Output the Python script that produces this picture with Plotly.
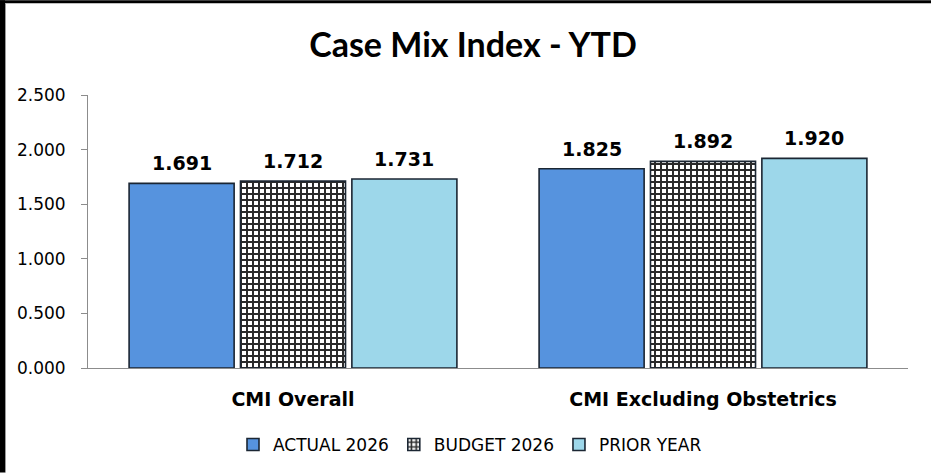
import plotly.graph_objects as go

# ---- data ----
categories = ["CMI Overall", "CMI Excluding Obstetrics"]
series_names = ["ACTUAL 2026", "BUDGET 2026", "PRIOR YEAR"]
actual_2026 = [1.691, 1.825]
budget_2026 = [1.712, 1.892]
prior_year = [1.731, 1.920]
y_tick_values = [0.0, 0.5, 1.0, 1.5, 2.0, 2.5]
y_tick_labels = ["0.000", "0.500", "1.000", "1.500", "2.000", "2.500"]
chart_title = "Case Mix Index - YTD"

# ---- layout constants ----
W, H = 931, 474
ML, MR, MT, MB = 88, 23, 95, 105
BARGAP, BARGROUPGAP = 0.185, 0.057
PW, PH = W - ML - MR, H - MT - MB


def px_x(p):
    return (p - ML) / PW


def px_y(p):
    return (H - MB - p) / PH


edge = dict(color="#1b2633", width=1.6)
series_values = [actual_2026, budget_2026, prior_year]
series_markers = [
    dict(color="#5693DE", line=edge),
    dict(color="#ffffff", line=edge,
         pattern=dict(shape="+", fgcolor="#2a2a2a", bgcolor="#ffffff",
                      size=6, solidity=0.55, fillmode="replace")),
    dict(color="#9DD7EA", line=edge),
]

fig = go.Figure()
for name, vals, mk in zip(series_names, series_values, series_markers):
    fig.add_trace(go.Bar(x=categories, y=vals, name=name, marker=mk,
                         hoverinfo="x+y+name"))

# data labels above bars, placed from the group geometry
n = len(series_names)
slot = (1 - BARGAP) / n
annotations = []
for i, vals in enumerate(series_values):
    off = -(1 - BARGAP) / 2 + (i + 0.5) * slot
    for j, v in enumerate(vals):
        annotations.append(dict(
            x=j + off, y=v, xref="x", yref="y", text=f"{v:.3f}",
            showarrow=False, yanchor="bottom", yshift=7,
            font=dict(family="DejaVu Sans", size=19, color="#000000",
                      weight="bold")))

# black frame at left/top edges of the picture
shapes = [
    dict(type="rect", xref="paper", yref="paper", x0=px_x(0), x1=px_x(5),
         y0=px_y(H), y1=px_y(0), fillcolor="#000000", line_width=0,
         layer="above"),
    dict(type="rect", xref="paper", yref="paper", x0=px_x(0), x1=px_x(W),
         y0=px_y(3), y1=px_y(0), fillcolor="#000000", line_width=0,
         layer="above"),
    dict(type="line", xref="paper", yref="paper", x0=px_x(5.5), x1=px_x(5.5),
         y0=px_y(H), y1=px_y(3), line=dict(color="#9a9a9a", width=1),
         layer="above"),
]

fig.update_layout(
    width=W, height=H,
    margin=dict(l=ML, r=MR, t=MT, b=MB, pad=0),
    paper_bgcolor="#ffffff", plot_bgcolor="#ffffff",
    barmode="group", bargap=BARGAP, bargroupgap=BARGROUPGAP,
    title=dict(text=chart_title, x=473 / W, xanchor="center",
               y=1 - 45 / H, yanchor="middle", xref="container",
               yref="container",
               font=dict(family="Lato", size=34, color="#000000",
                         weight="bold")),
    font=dict(family="DejaVu Sans", color="#000000"),
    showlegend=True,
    legend=dict(orientation="h", x=px_x(470), xanchor="center",
                y=px_y(445), yanchor="middle",
                font=dict(family="DejaVu Sans", size=17, color="#000000"),
                itemclick=False, itemdoubleclick=False),
    annotations=annotations,
    shapes=shapes,
)

fig.update_xaxes(
    showline=True, linecolor="#8c8c8c", linewidth=1,
    showgrid=False, ticks="", ticklabelstandoff=14,
    tickfont=dict(family="DejaVu Sans", size=19, color="#000000",
                  weight="bold"),
)
fig.update_yaxes(
    range=[0, 2.5], tickmode="array", tickvals=y_tick_values,
    ticktext=y_tick_labels,
    showline=True, linecolor="#8c8c8c", linewidth=1,
    showgrid=False, zeroline=False,
    ticks="outside", ticklen=6, tickcolor="#8c8c8c",
    ticklabelstandoff=12,
    tickfont=dict(family="DejaVu Sans", size=17, color="#000000"),
)

fig.write_html("out.html")
